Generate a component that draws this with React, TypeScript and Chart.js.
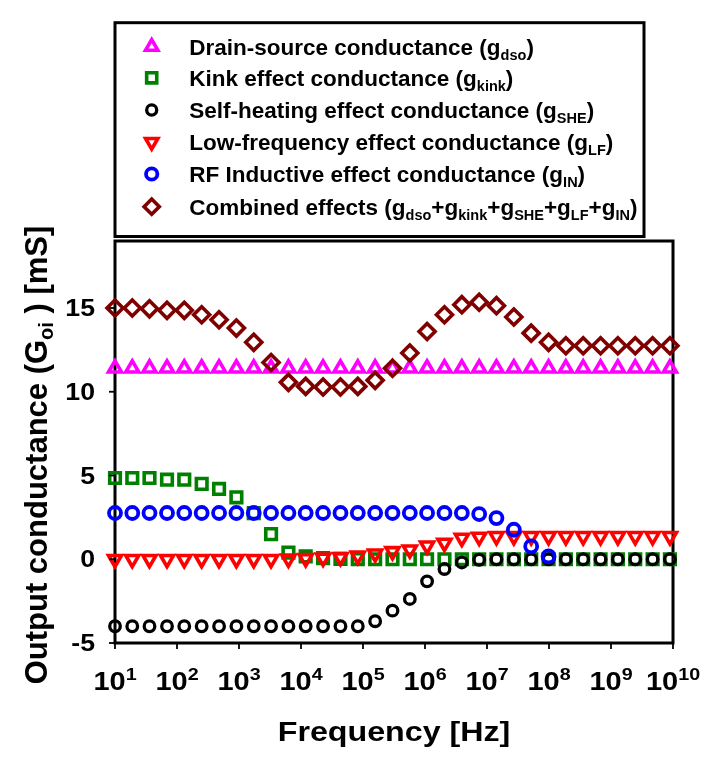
import React, { useEffect, useRef } from 'react';
import { Chart, registerables } from 'chart.js';
import { drawPoint } from 'chart.js/helpers';

Chart.register(...registerables);

// ---------- data ----------
const FREQUENCY_HZ = [
  10, 19, 36, 69, 131, 250, 477, 908, 1730, 3290, 6270, 11900, 22700, 43300, 82400,
  157000, 299000, 569000, 1080000, 2060000, 3930000, 7480000, 14200000, 27100000,
  51600000, 98400000, 187000000, 356000000, 679000000, 1290000000, 2460000000,
  4690000000, 8920000000,
];

const G_DSO = [
  11.4, 11.4, 11.4, 11.4, 11.4, 11.4, 11.4, 11.4, 11.4, 11.4, 11.4, 11.4, 11.4, 11.4, 11.4,
  11.4, 11.4, 11.4, 11.4, 11.4, 11.4, 11.4, 11.4, 11.4, 11.4, 11.4, 11.4, 11.4, 11.4, 11.4,
  11.4, 11.4, 11.4,
];

const G_KINK = [
  4.85, 4.85, 4.85, 4.75, 4.75, 4.5, 4.2, 3.7, 2.75, 1.5, 0.4, 0.17, 0.07, 0.02, 0.01,
  0, 0, 0, 0, 0, 0, 0, 0, 0, 0, 0, 0, 0, 0, 0, 0, 0, 0,
];

const G_SHE = [
  -4, -4, -4, -4, -4, -4, -4, -4, -4, -4, -4, -4, -4, -4, -4,
  -3.7, -3.07, -2.37, -1.32, -0.58, -0.19, -0.03,
  0, 0, 0, 0, 0, 0, 0, 0, 0, 0, 0,
];

const G_LF = [
  0, 0, 0, 0, 0, 0, 0, 0, 0, 0,
  0.02, 0.05, 0.08, 0.12, 0.2, 0.33, 0.47, 0.57, 0.81, 0.97, 1.27, 1.33,
  1.37, 1.37, 1.37, 1.37, 1.37, 1.37, 1.37, 1.37, 1.37, 1.37, 1.37,
];

const G_IN = [
  2.76, 2.76, 2.76, 2.76, 2.76, 2.76, 2.76, 2.76, 2.76, 2.76, 2.76, 2.76, 2.76, 2.76, 2.76,
  2.76, 2.76, 2.76, 2.76, 2.76, 2.76,
  2.7, 2.46, 1.76, 0.77, 0.17,
  null, null, null, null, null, null, null,
];

const G_COMBINED = [
  15.0, 15.0, 14.95, 14.86, 14.86, 14.6, 14.3, 13.8, 12.95, 11.75, 10.56, 10.32, 10.28,
  10.28, 10.32, 10.68, 11.4, 12.31, 13.6, 14.6, 15.2, 15.34, 15.14, 14.46, 13.5, 12.95,
  12.75, 12.75, 12.75, 12.75, 12.75, 12.75, 12.75,
];

const X_TICK_EXPONENTS = [1, 2, 3, 4, 5, 6, 7, 8, 9, 10];
const Y_TICKS = [-5, 0, 5, 10, 15];
const Y_MIN = -5;
const Y_MAX = 19;
const X_TITLE = 'Frequency [Hz]';
const Y_TITLE = ['Output conductance (G', 'oi', ' ) [mS]'];

// ---------- styles ----------
const FONT = '"Liberation Sans", Arial, Helvetica, sans-serif';

type Seg = { t: string; sub?: boolean };

const SERIES = [
  {
    label: [{ t: 'Drain-source conductance (g' }, { t: 'dso', sub: true }, { t: ')' }],
    data: G_DSO, color: '#FF00FF', style: 'triangle', radius: 7.5, rotation: 0, bw: 3.6, order: 6,
  },
  {
    label: [{ t: 'Kink effect conductance (g' }, { t: 'kink', sub: true }, { t: ')' }],
    data: G_KINK, color: '#008000', style: 'rect', radius: 7.5, rotation: 0, bw: 3.6, order: 5,
  },
  {
    label: [{ t: 'Self-heating effect conductance (g' }, { t: 'SHE', sub: true }, { t: ')' }],
    data: G_SHE, color: '#000000', style: 'circle', radius: 5.3, rotation: 0, bw: 3.3, order: 4,
  },
  {
    label: [{ t: 'Low-frequency effect conductance (g' }, { t: 'LF', sub: true }, { t: ')' }],
    data: G_LF, color: '#FF0000', style: 'triangle', radius: 7.5, rotation: 180, bw: 3.6, order: 3,
  },
  {
    label: [{ t: 'RF Inductive effect conductance (g' }, { t: 'IN', sub: true }, { t: ')' }],
    data: G_IN, color: '#0000FF', style: 'circle', radius: 6, rotation: 0, bw: 3.8, order: 2,
  },
  {
    label: [
      { t: 'Combined effects (g' }, { t: 'dso', sub: true }, { t: '+g' }, { t: 'kink', sub: true },
      { t: '+g' }, { t: 'SHE', sub: true }, { t: '+g' }, { t: 'LF', sub: true }, { t: '+g' },
      { t: 'IN', sub: true }, { t: ')' },
    ],
    data: G_COMBINED, color: '#800000', style: 'rectRot', radius: 8, rotation: 0, bw: 3.6, order: 1,
  },
];

type TSeg = { t: string; size: number; dy: number };

function measureSegs(ctx: CanvasRenderingContext2D, segs: TSeg[]) {
  let w = 0;
  for (const s of segs) {
    ctx.font = `bold ${s.size}px ${FONT}`;
    w += ctx.measureText(s.t).width;
  }
  return w;
}

function drawSegs(
  ctx: CanvasRenderingContext2D,
  segs: TSeg[],
  x: number,
  y: number,
  align: 'left' | 'center' | 'right',
  sx = 1,
) {
  const w = measureSegs(ctx, segs) * sx;
  const start = align === 'left' ? x : align === 'center' ? x - w / 2 : x - w;
  ctx.save();
  ctx.translate(start, y);
  ctx.scale(sx, 1);
  ctx.textAlign = 'left';
  ctx.textBaseline = 'alphabetic';
  ctx.fillStyle = '#000';
  let cx = 0;
  for (const s of segs) {
    ctx.font = `bold ${s.size}px ${FONT}`;
    ctx.fillText(s.t, cx, s.dy);
    cx += ctx.measureText(s.t).width;
  }
  ctx.restore();
}

const decorPlugin = {
  id: 'decor',
  beforeDatasetsDraw(chart: any) {
    const { ctx, chartArea: a } = chart;
    ctx.save();
    ctx.strokeStyle = '#000';
    ctx.lineWidth = 3;
    ctx.strokeRect(a.left, a.top, a.right - a.left, a.bottom - a.top);
    ctx.restore();
  },
  afterDraw(chart: any) {
    const { ctx, chartArea: a } = chart;
    const xs = chart.scales.x;
    const ys = chart.scales.y;
    ctx.save();
    ctx.strokeStyle = '#000';
    ctx.lineWidth = 1.8;
    // y ticks + labels
    for (const v of Y_TICKS) {
      const py = ys.getPixelForValue(v);
      ctx.beginPath();
      ctx.moveTo(a.left - 6, py);
      ctx.lineTo(a.left, py);
      ctx.stroke();
      drawSegs(ctx, [{ t: String(v), size: 23, dy: 0 }], a.left - 20, py + 8.2, 'right', 1.16);
    }
    // x ticks + labels
    for (const n of X_TICK_EXPONENTS) {
      const px = xs.getPixelForValue(Math.pow(10, n));
      ctx.beginPath();
      ctx.moveTo(px, a.bottom);
      ctx.lineTo(px, a.bottom + 6);
      ctx.stroke();
      drawSegs(
        ctx,
        [
          { t: '10', size: 25, dy: 0 },
          { t: String(n), size: 17, dy: -10 },
        ],
        px,
        a.bottom + 47,
        'center',
        1.16,
      );
    }
    // x title
    drawSegs(ctx, [{ t: X_TITLE, size: 28, dy: 0 }], (a.left + a.right) / 2, a.bottom + 98, 'center', 1.15);
    // y title (rotated)
    ctx.save();
    ctx.translate(38.5, 447);
    ctx.rotate(-Math.PI / 2);
    drawSegs(
      ctx,
      [
        { t: Y_TITLE[0], size: 31, dy: 0 },
        { t: Y_TITLE[1], size: 20, dy: 6 },
        { t: Y_TITLE[2], size: 31, dy: 0 },
      ],
      0,
      0,
      'center',
      1,
    );
    ctx.restore();

    // legend box
    const lx0 = 107, ly0 = 14.7, lx1 = 636, ly1 = 228.5;
    ctx.lineWidth = 3;
    ctx.strokeStyle = '#000';
    ctx.fillStyle = '#fff';
    ctx.fillRect(lx0, ly0, lx1 - lx0, ly1 - ly0);
    ctx.strokeRect(lx0, ly0, lx1 - lx0, ly1 - ly0);
    const rows = [38.7, 69.8, 102, 134, 166, 198.7];
    SERIES.forEach((s, i) => {
      const cy = rows[i];
      ctx.save();
      ctx.strokeStyle = s.color;
      ctx.fillStyle = 'rgba(0,0,0,0)';
      ctx.lineWidth = s.bw;
      drawPoint(ctx, { pointStyle: s.style as any, radius: s.radius * 0.95, rotation: s.rotation, borderWidth: s.bw }, 143.7, cy);
      ctx.restore();
      const segs: TSeg[] = (s.label as Seg[]).map((g) =>
        g.sub ? { t: g.t, size: 14.5, dy: 5 } : { t: g.t, size: 22.5, dy: 0 },
      );
      drawSegs(ctx, segs, 181.3, cy + 8, 'left', 1.0);
    });
    ctx.restore();
  },
};

export default function App() {
  const ref = useRef<HTMLCanvasElement>(null);
  useEffect(() => {
    const chart = new Chart(ref.current as HTMLCanvasElement, {
      type: 'scatter',
      data: {
        datasets: SERIES.map((s) => ({
          label: s.label.map((g) => g.t).join(''),
          data: FREQUENCY_HZ.map((f, i) => ({ x: f, y: s.data[i] })),
          showLine: false,
          pointStyle: s.style as any,
          pointRadius: s.radius,
          pointRotation: s.rotation,
          pointBorderWidth: s.bw,
          pointBorderColor: s.color,
          pointBackgroundColor: 'rgba(0,0,0,0)',
          borderColor: s.color,
          backgroundColor: 'rgba(0,0,0,0)',
          order: s.order,
          clip: false as any,
        })),
      },
      options: {
        animation: false,
        responsive: true,
        maintainAspectRatio: false,
        events: [],
        layout: { padding: { left: 107, top: 233, right: 40, bottom: 115 } },
        plugins: { legend: { display: false }, tooltip: { enabled: false } },
        scales: {
          x: { type: 'logarithmic', min: 10, max: 1e10, display: false },
          y: { type: 'linear', min: Y_MIN, max: Y_MAX, display: false },
        },
      },
      plugins: [decorPlugin],
    });
    return () => chart.destroy();
  }, []);
  return (
    <div style={{ position: 'relative', width: 705, height: 750 }}>
      <canvas ref={ref} style={{ display: 'block' }} />
    </div>
  );
}
